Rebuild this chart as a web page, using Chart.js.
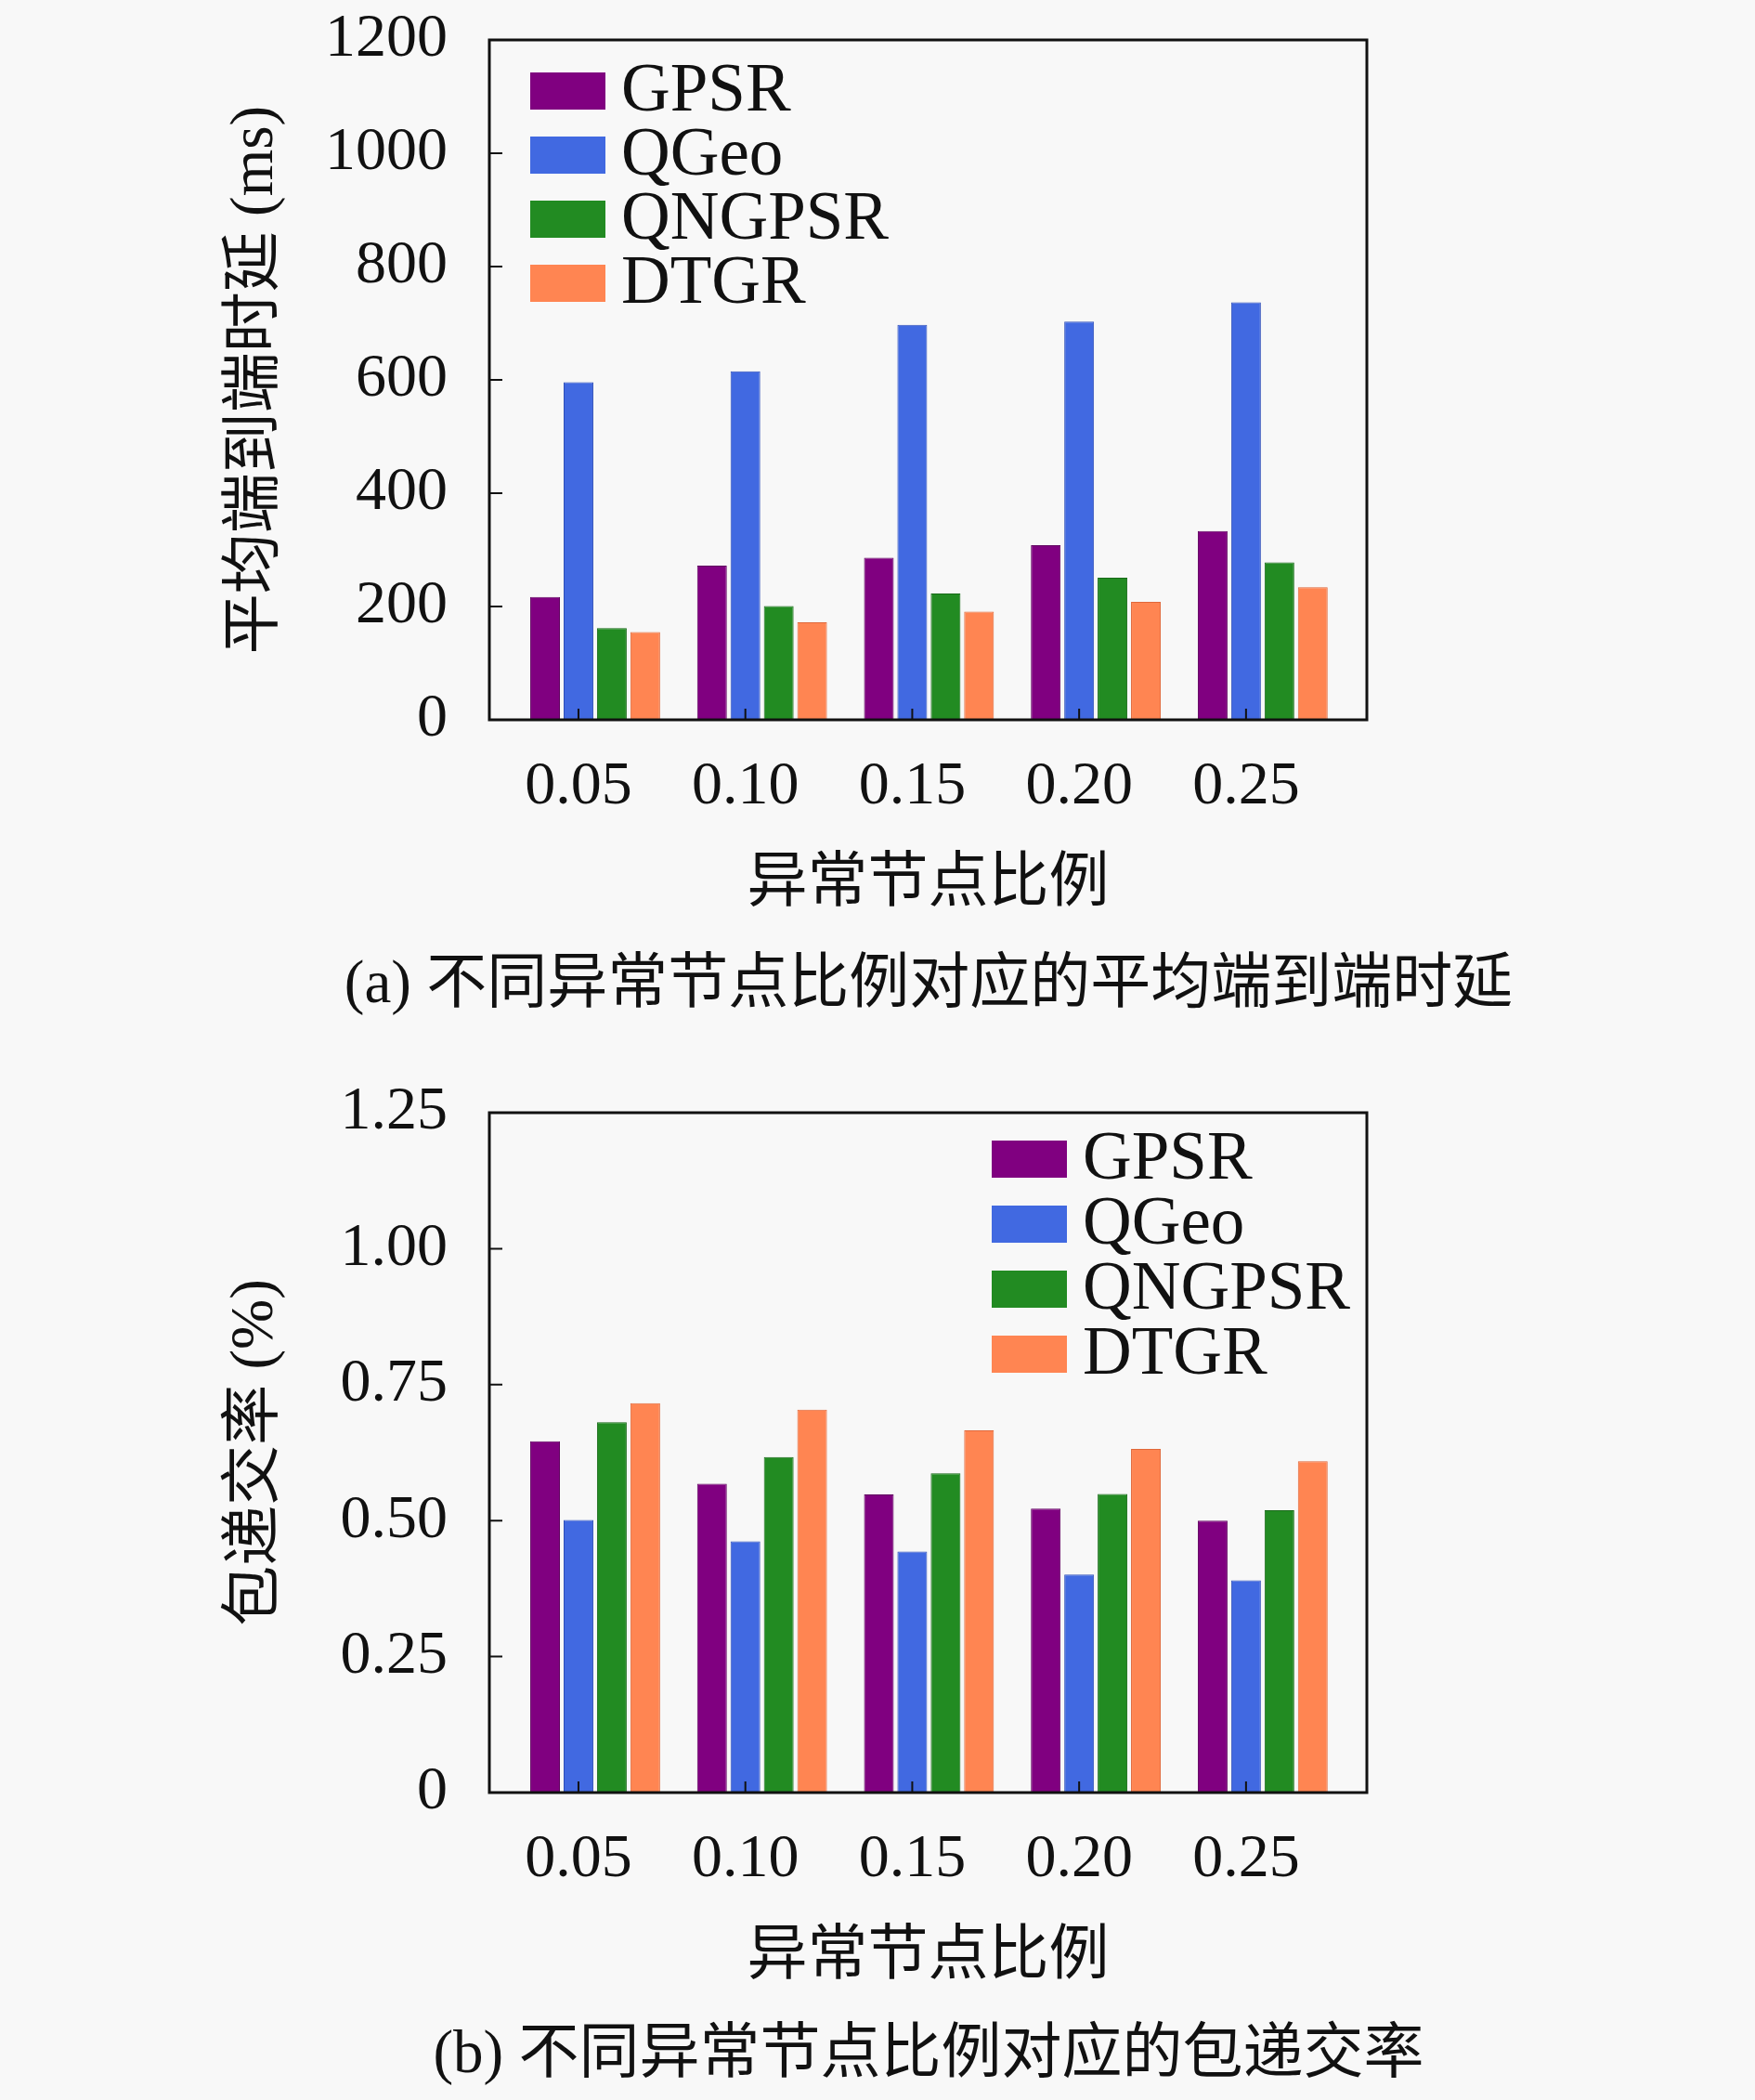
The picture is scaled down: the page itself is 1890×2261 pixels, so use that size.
<!DOCTYPE html>
<html>
<head>
<meta charset="utf-8">
<script src="https://cdn.jsdelivr.net/npm/chart.js@4.4.1/dist/chart.umd.min.js"></script>
<style>
  body { margin: 0; background: #f8f8f8; width: 1890px; height: 2261px; position: relative; overflow: hidden; }
  .plot { position: absolute; left: 0; width: 1890px; height: 1000px; }
  .cap { position: absolute; left: 200px; width: 1600px; text-align: center; color: #111;
         font: 65px 'Liberation Serif', 'Noto Sans CJK SC', serif; line-height: 65px; white-space: nowrap; }
</style>
</head>
<body>
<canvas id="delayChart" class="plot" width="1890" height="1000" style="top:0px"></canvas>
<div class="cap" style="top:1025px">(a) 不同异常节点比例对应的平均端到端时延</div>
<canvas id="pdrChart" class="plot" width="1890" height="1000" style="top:1155px"></canvas>
<div class="cap" style="top:2177px">(b) 不同异常节点比例对应的包递交率</div>

<script>
// data
const categories = ['0.05', '0.10', '0.15', '0.20', '0.25'];
const seriesNames = ['GPSR', 'QGeo', 'QNGPSR', 'DTGR'];
const seriesColors = ['#800080', '#4169e1', '#228b22', '#ff8552'];
const edgeColors = ['#5e005e', '#2f4fb8', '#186a18', '#e0683a'];

const delayGPSR = [217, 272, 286, 308, 333];
const delayQGeo = [596, 615, 697, 703, 737];
const delayQNGPSR = [162, 201, 223, 251, 278];
const delayDTGR = [155, 172, 191, 208, 234];
const delayTicks = ['0', '200', '400', '600', '800', '1000', '1200'];

const pdrGPSR = [0.646, 0.568, 0.548, 0.522, 0.500];
const pdrQGeo = [0.501, 0.462, 0.443, 0.401, 0.390];
const pdrQNGPSR = [0.681, 0.617, 0.587, 0.549, 0.519];
const pdrDTGR = [0.716, 0.704, 0.666, 0.632, 0.609];
const pdrTicks = ['0', '0.25', '0.50', '0.75', '1.00', '1.25'];

// empty slot in front so the tick sits under the second bar, as in the original
const spacer = [null, null, null, null, null];

Chart.defaults.font.family = "'Liberation Serif', 'Noto Sans CJK SC', serif";
Chart.defaults.color = '#111';

// box round the plot + inward tick marks
const frame = {
  id: 'frame',
  afterDraw(chart) {
    const { ctx, chartArea: a, scales } = chart;
    ctx.save();
    ctx.strokeStyle = '#111';
    ctx.lineWidth = 2;
    ctx.beginPath();
    scales.y.ticks.forEach(t => {
      const py = scales.y.getPixelForValue(t.value);
      ctx.moveTo(a.left, py);
      ctx.lineTo(a.left + 14, py);
    });
    scales.x.ticks.forEach(t => {
      const px = scales.x.getPixelForValue(t.value);
      ctx.moveTo(px, a.bottom);
      ctx.lineTo(px, a.bottom - 12);
    });
    ctx.stroke();
    ctx.lineWidth = 3;
    ctx.strokeRect(a.left, a.top, a.right - a.left, a.bottom - a.top);
    ctx.restore();
  }
};

const boxLegend = {
  id: 'boxLegend',
  afterDraw(chart, args, opts) {
    const { ctx, chartArea } = chart;
    ctx.save();
    ctx.font = "73px 'Liberation Serif'";
    ctx.textBaseline = 'middle';
    chart.data.datasets.filter(d => d.label).forEach((d, i) => {
      const x = chartArea.left + opts.x;
      const y = chartArea.top + opts.y + i * opts.gap;
      ctx.fillStyle = d.backgroundColor;
      ctx.fillRect(x, y - 20, 81, 40);
      ctx.fillStyle = '#111';
      ctx.fillText(d.label, x + 98, y + 2);
    });
    ctx.restore();
  }
};

function makeDatasets(series) {
  const sets = [{ label: '', data: spacer, backgroundColor: 'rgba(0,0,0,0)' }];
  series.forEach((values, i) => {
    sets.push({
      label: seriesNames[i],
      data: values,
      backgroundColor: seriesColors[i],
      borderColor: edgeColors[i],
      borderWidth: 1
    });
  });
  return sets;
}

function noPad(s) {
  s.paddingTop = 0;
  s.paddingBottom = 0;
  s.paddingLeft = 0;
  s.paddingRight = 0;
}

function makeChart(id, series, yMax, yStep, yTickLabels, yTitle, legendPos) {
  new Chart(document.getElementById(id), {
    type: 'bar',
    data: { labels: categories, datasets: makeDatasets(series) },
    options: {
      responsive: false,
      animation: false,
      layout: { padding: { left: 0, top: 43, right: 418, bottom: 0 } },
      datasets: { bar: { categoryPercentage: 1.0, barPercentage: 0.89 } },
      plugins: {
        legend: { display: false },
        tooltip: { enabled: false },
        boxLegend: legendPos
      },
      scales: {
        x: {
          type: 'linear',
          min: 0.0233,
          max: 0.2862,
          offset: false,
          border: { display: false },
          grid: { display: false, offset: false },
          ticks: {
            stepSize: 0.05,
            includeBounds: false,
            autoSkip: false,
            maxRotation: 0,
            padding: 25,
            font: { size: 66 },
            color: '#111',
            callback: (v, i) => categories[i]
          },
          title: { display: true, text: '异常节点比例', font: { size: 65 }, padding: { top: 0, bottom: 8 }, color: '#111' },
          afterFit: s => { s.height = 225; noPad(s); }
        },
        y: {
          min: 0,
          max: yMax,
          border: { display: false },
          grid: { display: false },
          ticks: {
            stepSize: yStep,
            padding: 37,
            font: { size: 66 },
            color: '#111',
            callback: (v, i) => yTickLabels[i]
          },
          title: { display: true, text: yTitle, font: { size: 65 }, padding: { top: 237 }, color: '#111' },
          afterFit: s => { s.width = 527; noPad(s); }
        }
      }
    },
    plugins: [frame, boxLegend]
  });
}

makeChart('delayChart', [delayGPSR, delayQGeo, delayQNGPSR, delayDTGR],
  1200, 200, delayTicks, '平均端到端时延 (ms)', { x: 44, y: 55, gap: 69 });
makeChart('pdrChart', [pdrGPSR, pdrQGeo, pdrQNGPSR, pdrDTGR],
  1.25, 0.25, pdrTicks, '包递交率 (%)', { x: 541, y: 50, gap: 70 });
</script>
</body>
</html>
